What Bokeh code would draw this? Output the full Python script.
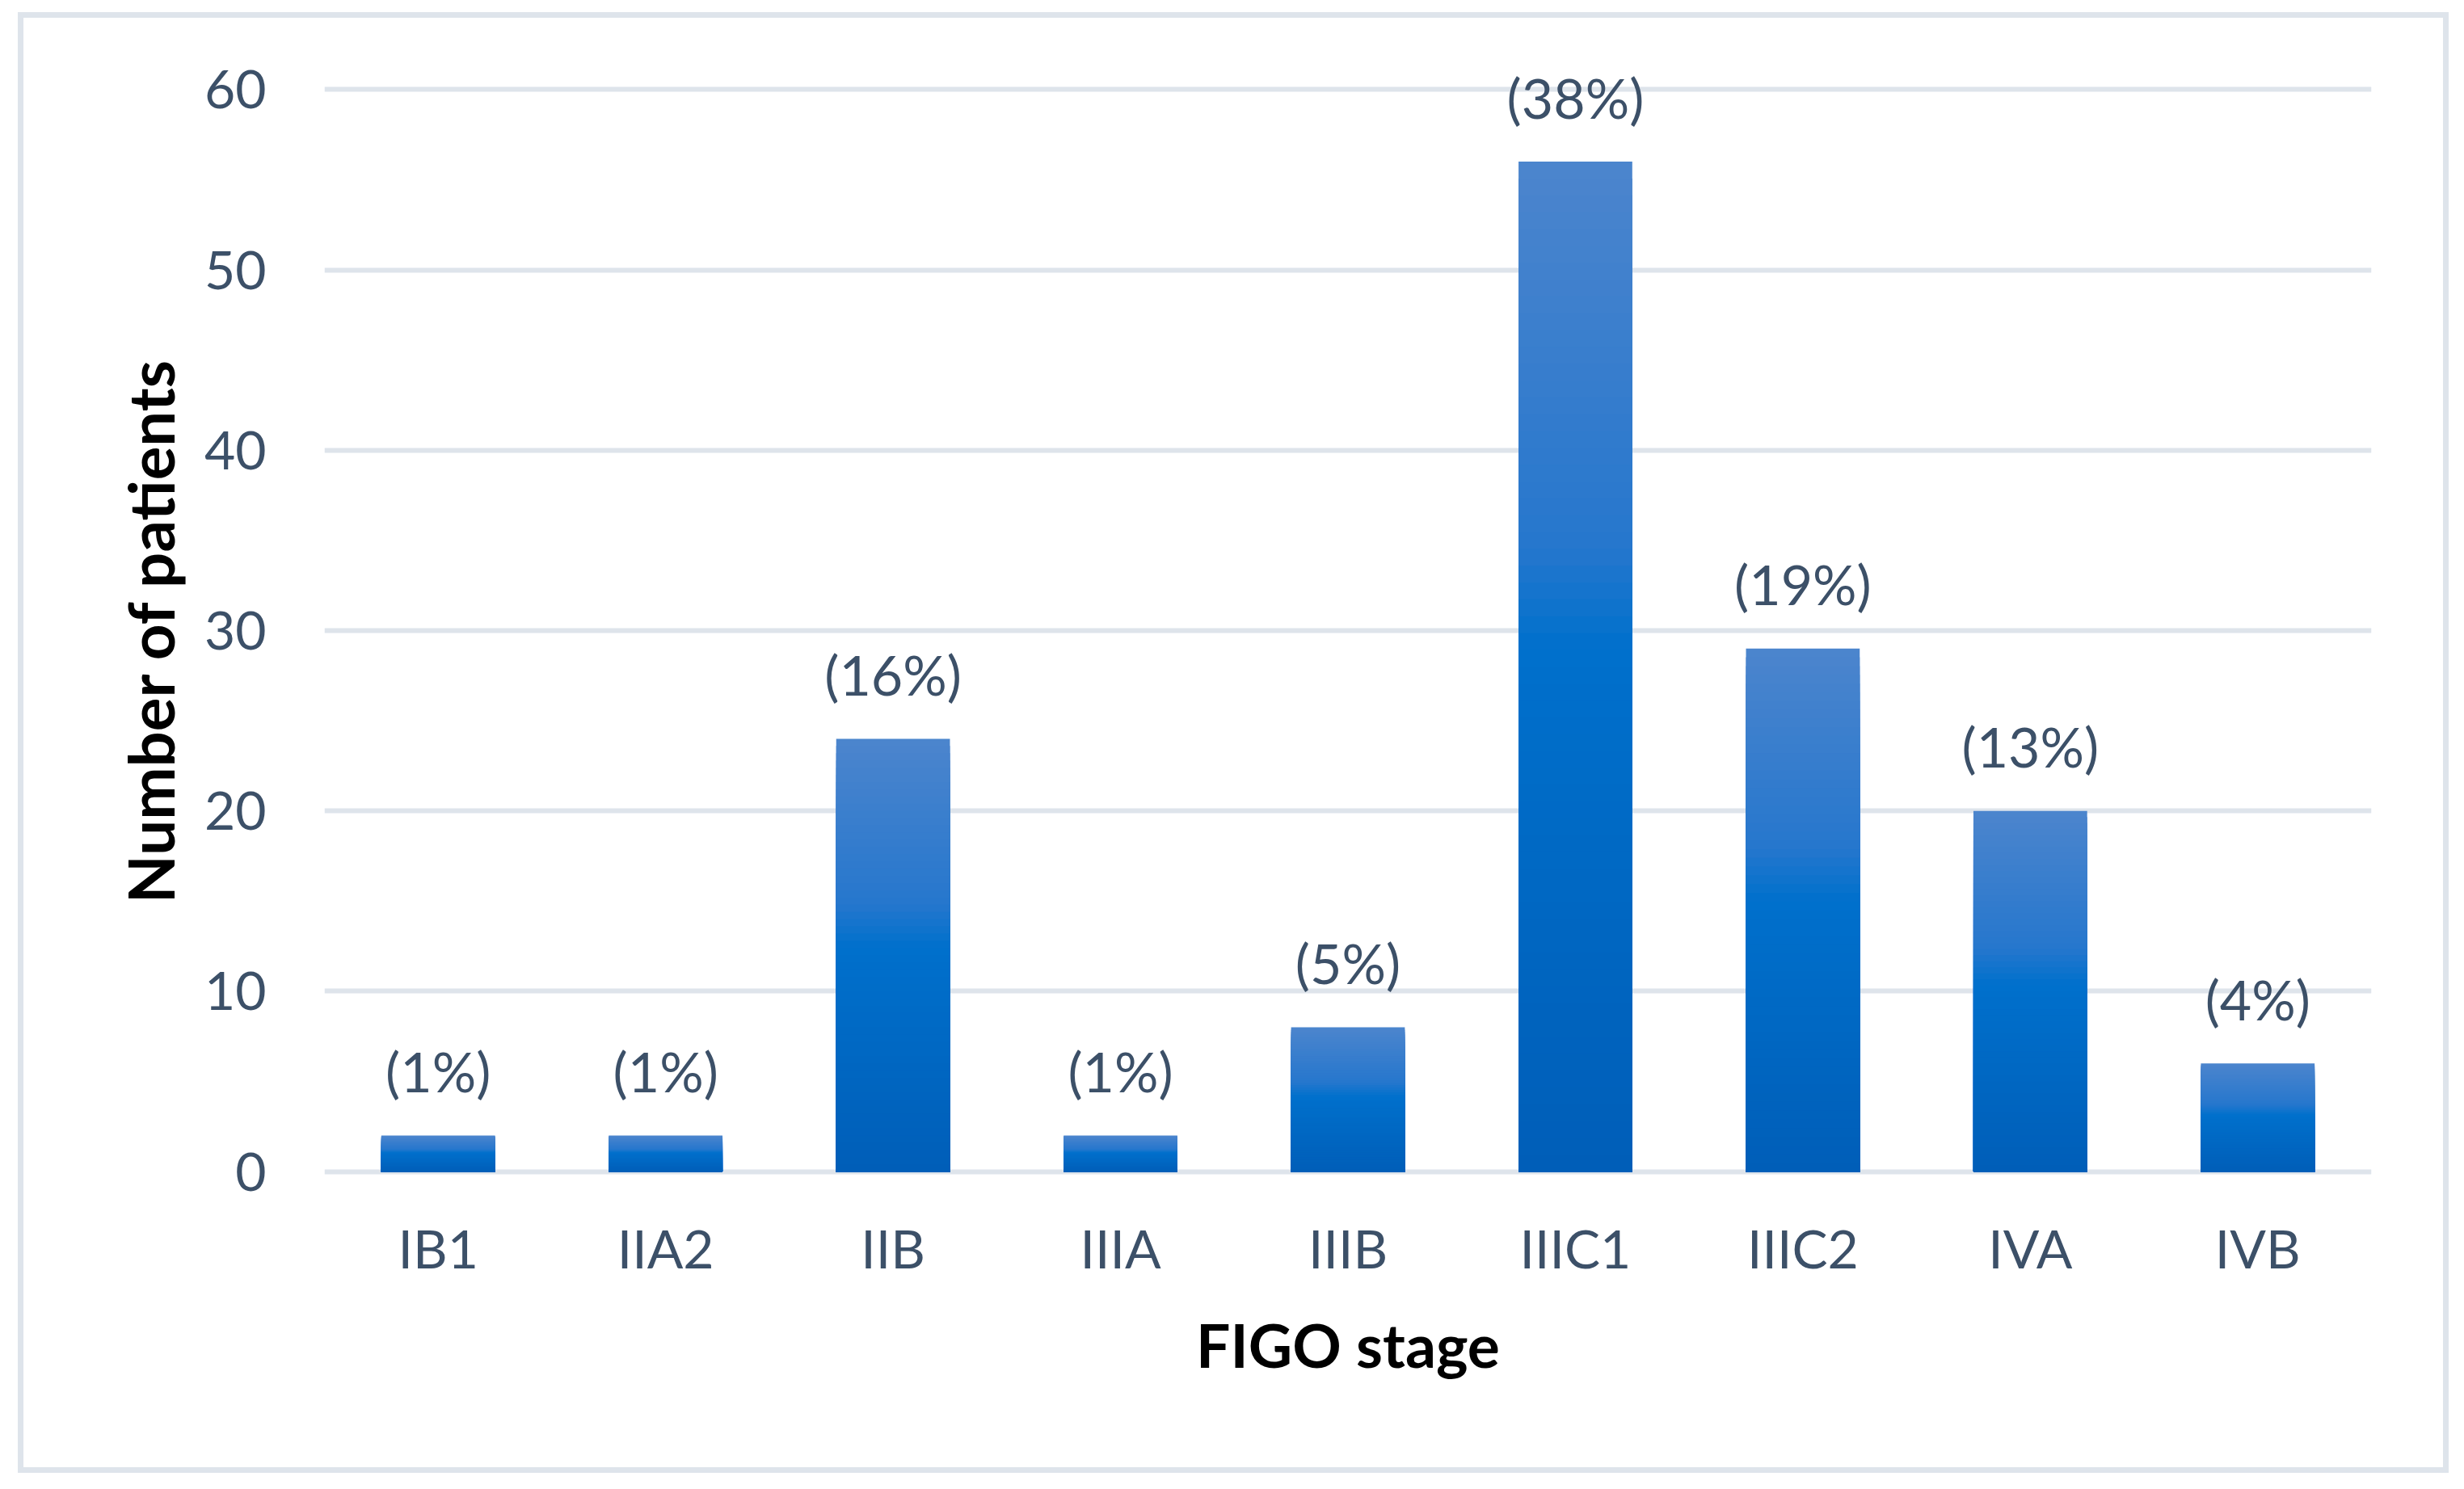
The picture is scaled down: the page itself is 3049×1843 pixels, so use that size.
from bokeh.plotting import figure
from bokeh.models import FactorRange, Range1d, FixedTicker, ColumnDataSource
from bokeh.core.properties import value
from bokeh.embed import file_html
from bokeh.resources import INLINE

# ---- data ----
stages = ["IB1", "IIA2", "IIB", "IIIA", "IIIB", "IIIC1", "IIIC2", "IVA", "IVB"]
patients = [2, 2, 24, 2, 8, 56, 29, 20, 6]
pct_labels = ["(1%)", "(1%)", "(16%)", "(1%)", "(5%)", "(38%)", "(19%)", "(13%)", "(4%)"]
y_ticks = [0, 10, 20, 30, 40, 50, 60]

# ---- style ----
TICK_COLOR = "#3c5068"
GRID_COLOR = "#dee4eb"
FONT = "Lato"

# vertical gradient stops (0 = top of bar, 1 = bottom)
stops = [(0.0, (76, 133, 205)), (0.38, (38, 119, 205)), (0.48, (0, 112, 204)), (1.0, (0, 94, 184))]


def grad(t):
    for (t0, c0), (t1, c1) in zip(stops[:-1], stops[1:]):
        if t <= t1:
            f = 0 if t1 == t0 else (t - t0) / (t1 - t0)
            return "#%02x%02x%02x" % tuple(int(round(a + (b - a) * f)) for a, b in zip(c0, c1))
    return "#%02x%02x%02x" % stops[-1][1]


W, H = 3040, 1836
p = figure(
    x_range=FactorRange(*stages),
    y_range=Range1d(-1, 61),
    width=W, height=H,
    output_backend="svg", toolbar_location=None,
    min_border_left=401, min_border_right=106,
    min_border_top=88, min_border_bottom=364,
)
p.outline_line_color = None
p.background_fill_color = "white"
p.border_fill_color = None  # transparent, so the CSS frame below shows through

# outer chart-area border (light grey rectangle) painted as the element background
band = "linear-gradient(%s,%s)" % (GRID_COLOR, GRID_COLOR)
p.styles = {
    "background-color": "white",
    "background-image": ", ".join([band] * 4),
    "background-repeat": "no-repeat",
    "background-position": "22px 15px, 22px 1816px, 22px 15px, 3023px 15px",
    "background-size": "3008px 7px, 3008px 7px, 7px 1808px, 7px 1808px",
}

# grid
p.xgrid.grid_line_color = None
p.ygrid.ticker = FixedTicker(ticks=y_ticks)
p.ygrid.grid_line_color = GRID_COLOR
p.ygrid.grid_line_width = 6

# y axis
p.yaxis.ticker = FixedTicker(ticks=y_ticks)
p.yaxis.axis_line_color = None
p.yaxis.major_tick_line_color = None
p.yaxis.minor_tick_line_color = None
p.yaxis.major_tick_out = 0
p.yaxis.major_label_standoff = 72
p.yaxis.major_label_text_font = FONT
p.yaxis.major_label_text_font_size = "66px"
p.yaxis.major_label_text_color = TICK_COLOR
p.yaxis.axis_label = "Number of patients"
p.yaxis.axis_label_text_font = FONT
p.yaxis.axis_label_text_font_style = "bold"
p.yaxis.axis_label_text_font_size = "78px"
p.yaxis.axis_label_text_color = "black"
p.yaxis.axis_label_standoff = 17

# x axis
p.xaxis.axis_line_color = None
p.xaxis.major_tick_line_color = None
p.xaxis.major_tick_out = 0
p.xaxis.major_label_standoff = 32
p.xaxis.major_label_text_font = FONT
p.xaxis.major_label_text_font_size = "66px"
p.xaxis.major_label_text_color = TICK_COLOR
p.xaxis.axis_label = "FIGO stage"
p.xaxis.axis_label_text_font = FONT
p.xaxis.axis_label_text_font_style = "bold"
p.xaxis.axis_label_text_font_size = "75px"
p.xaxis.axis_label_text_color = "black"
p.xaxis.axis_label_standoff = 32

# gradient bars: stacked overlays from the full bar down to thin bottom slices
N = 60
xs, tops, cols = [], [], []
for k in range(N):
    frac = 1 - k / N
    c = grad((k + 0.5) / N)
    for s, v in zip(stages, patients):
        xs.append(s)
        tops.append(v * frac)
        cols.append(c)
src = ColumnDataSource(dict(x=xs, top=tops, color=cols))
p.vbar(x="x", top="top", bottom=0, width=0.5, fill_color="color", line_color=None, source=src)

# percentage labels
lab = ColumnDataSource(dict(x=stages, y=patients, t=pct_labels))
p.text(x="x", y="y", text="t", source=lab, text_font=value(FONT), text_font_size="68px",
       text_color=TICK_COLOR, text_align="center", text_baseline="middle", y_offset=-80)

open("out.html", "w").write(file_html(p, INLINE))
